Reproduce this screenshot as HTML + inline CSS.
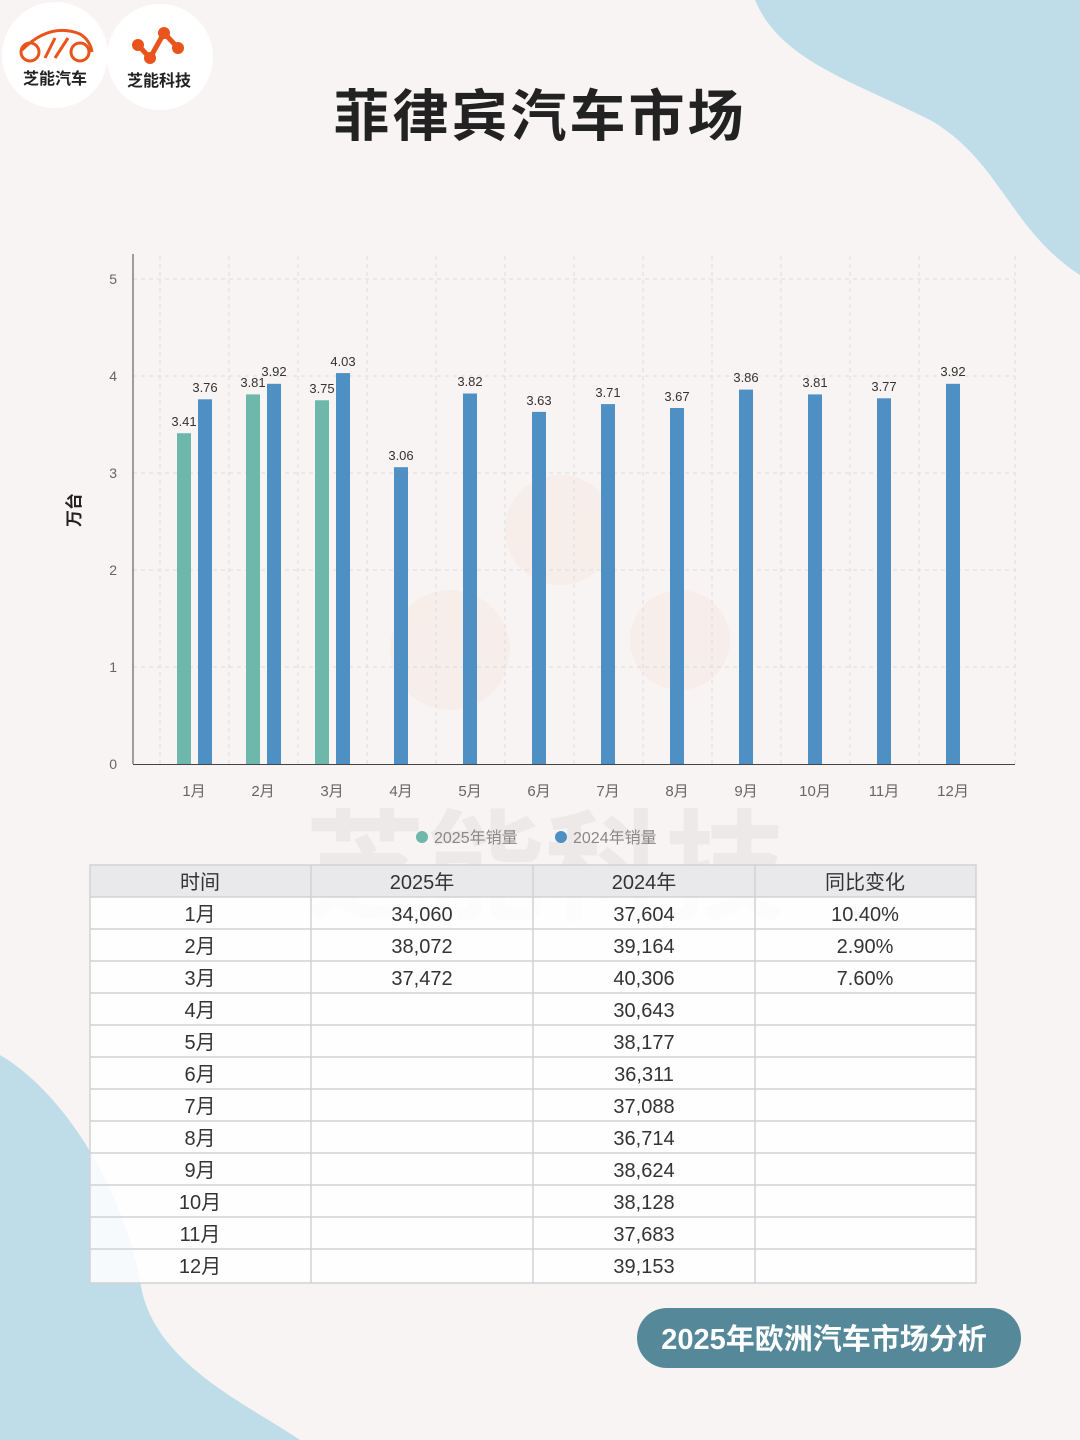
<!DOCTYPE html>
<html><head><meta charset="utf-8"><style>
body{margin:0;width:1080px;height:1440px;background:#f8f4f3;overflow:hidden;font-family:"Liberation Sans","Noto Sans CJK SC",sans-serif;}
</style></head><body>
<svg width="1080" height="1440" xmlns="http://www.w3.org/2000/svg" style="position:absolute;left:0;top:0">
<path d="M755 0 C780 60 850 80 930 120 C1000 160 1010 230 1080 275 L1080 0 Z" fill="#bfdde9"/>
<path d="M0 1055 C60 1090 120 1180 140 1280 C150 1360 240 1400 300 1440 L0 1440 Z" fill="#bfdde9"/>
<circle cx="55" cy="55" r="53" fill="#fff"/>
<circle cx="160" cy="57" r="53" fill="#fff"/>
<path d="M22 50 Q50 22 80 34 Q90 40 92 52" fill="none" stroke="#e8541c" stroke-width="3"/>
<circle cx="30" cy="52" r="9" fill="none" stroke="#e8541c" stroke-width="3"/>
<circle cx="80" cy="52" r="9" fill="none" stroke="#e8541c" stroke-width="3"/>
<path d="M45 58 L55 38 M55 58 L68 38" stroke="#e8541c" stroke-width="3"/>
<text x="55" y="84" font-size="16" font-weight="bold" text-anchor="middle" fill="#222">芝能汽车</text>
<path d="M138 45 L150 58 L164 33 L178 48" fill="none" stroke="#e8541c" stroke-width="5"/>
<circle cx="138" cy="45" r="6" fill="#e8541c"/><circle cx="150" cy="58" r="6" fill="#e8541c"/>
<circle cx="164" cy="33" r="6" fill="#e8541c"/><circle cx="178" cy="48" r="6" fill="#e8541c"/>
<text x="159" y="86" font-size="16" font-weight="bold" text-anchor="middle" fill="#222">芝能科技</text>
<text x="540" y="136" font-size="56" font-weight="bold" text-anchor="middle" fill="#222" letter-spacing="3">菲律宾汽车市场</text>
<g opacity="0.04" fill="#e8541c"><circle cx="560" cy="530" r="55"/><circle cx="450" cy="650" r="60"/><circle cx="680" cy="640" r="50"/></g>
<text x="545" y="910" font-size="120" font-weight="bold" text-anchor="middle" fill="#000" opacity="0.04">芝能科技</text>
<g stroke="#ddd" stroke-dasharray="4,4" stroke-width="1">
<line x1="133" y1="279" x2="1015" y2="279"/><line x1="133" y1="376" x2="1015" y2="376"/>
<line x1="133" y1="473" x2="1015" y2="473"/><line x1="133" y1="570" x2="1015" y2="570"/>
<line x1="133" y1="667" x2="1015" y2="667"/>
<line x1="160" y1="256" x2="160" y2="764"/><line x1="229" y1="256" x2="229" y2="764"/><line x1="298" y1="256" x2="298" y2="764"/><line x1="367" y1="256" x2="367" y2="764"/><line x1="436" y1="256" x2="436" y2="764"/><line x1="505" y1="256" x2="505" y2="764"/><line x1="574" y1="256" x2="574" y2="764"/><line x1="643" y1="256" x2="643" y2="764"/><line x1="712" y1="256" x2="712" y2="764"/><line x1="781" y1="256" x2="781" y2="764"/><line x1="850" y1="256" x2="850" y2="764"/><line x1="919" y1="256" x2="919" y2="764"/><line x1="1015" y1="256" x2="1015" y2="764"/>
</g>
<line x1="133" y1="254" x2="133" y2="764" stroke="#444" stroke-width="1"/>
<line x1="133" y1="764.5" x2="1015" y2="764.5" stroke="#444" stroke-width="1"/>
<g font-size="14" fill="#666" text-anchor="end">
<text x="117" y="284">5</text><text x="117" y="381">4</text><text x="117" y="478">3</text><text x="117" y="575">2</text><text x="117" y="672">1</text><text x="117" y="769">0</text></g>
<text x="80" y="510" font-size="17" font-weight="bold" fill="#222" transform="rotate(-90 80 510)" text-anchor="middle">万台</text>
<g fill="#6db8aa">
<rect x="177" y="433.2" width="14" height="330.8"/><rect x="246" y="394.4" width="14" height="369.6"/><rect x="315" y="400.25" width="14" height="363.75"/></g>
<g fill="#4e90c4">
<rect x="198" y="399.3" width="14" height="364.7"/><rect x="267" y="383.8" width="14" height="380.2"/><rect x="336" y="373.1" width="14" height="390.9"/>
<rect x="394" y="467.2" width="14" height="296.8"/><rect x="463" y="393.5" width="14" height="370.5"/><rect x="532" y="411.9" width="14" height="352.1"/>
<rect x="601" y="404.1" width="14" height="359.9"/><rect x="670" y="408" width="14" height="356"/><rect x="739" y="389.6" width="14" height="374.4"/>
<rect x="808" y="394.4" width="14" height="369.6"/><rect x="877" y="398.3" width="14" height="365.7"/><rect x="946" y="383.8" width="14" height="380.2"/></g>
<g font-size="13" fill="#333" text-anchor="middle">
<text x="184" y="426">3.41</text><text x="253" y="387">3.81</text><text x="322" y="393">3.75</text>
<text x="205" y="392">3.76</text><text x="274" y="376">3.92</text><text x="343" y="366">4.03</text>
<text x="401" y="460">3.06</text><text x="470" y="386">3.82</text><text x="539" y="405">3.63</text>
<text x="608" y="397">3.71</text><text x="677" y="401">3.67</text><text x="746" y="382">3.86</text>
<text x="815" y="387">3.81</text><text x="884" y="391">3.77</text><text x="953" y="376">3.92</text></g>
<g font-size="15" fill="#666" text-anchor="middle">
<text x="194" y="796">1月</text><text x="263" y="796">2月</text><text x="332" y="796">3月</text><text x="401" y="796">4月</text><text x="470" y="796">5月</text><text x="539" y="796">6月</text><text x="608" y="796">7月</text><text x="677" y="796">8月</text><text x="746" y="796">9月</text><text x="815" y="796">10月</text><text x="884" y="796">11月</text><text x="953" y="796">12月</text></g>
<circle cx="422" cy="837" r="6" fill="#6db8aa"/><text x="434" y="843" font-size="16" fill="#888">2025年销量</text>
<circle cx="561" cy="837" r="6" fill="#4e90c4"/><text x="573" y="843" font-size="16" fill="#888">2024年销量</text>
<rect x="90" y="865" width="886" height="32" fill="#e9e9eb"/>
<rect x="90" y="897" width="886" height="386" fill="#fff" fill-opacity="0.85"/>
<g stroke="#d2d2d6" stroke-width="1.5">
<rect x="90" y="865" width="886" height="418" fill="none"/>
<line x1="311" y1="865" x2="311" y2="1283"/><line x1="533" y1="865" x2="533" y2="1283"/><line x1="755" y1="865" x2="755" y2="1283"/>
<line x1="90" y1="897" x2="976" y2="897"/><line x1="90" y1="929" x2="976" y2="929"/><line x1="90" y1="961" x2="976" y2="961"/><line x1="90" y1="993" x2="976" y2="993"/><line x1="90" y1="1025" x2="976" y2="1025"/><line x1="90" y1="1057" x2="976" y2="1057"/><line x1="90" y1="1089" x2="976" y2="1089"/><line x1="90" y1="1121" x2="976" y2="1121"/><line x1="90" y1="1153" x2="976" y2="1153"/><line x1="90" y1="1185" x2="976" y2="1185"/><line x1="90" y1="1217" x2="976" y2="1217"/><line x1="90" y1="1249" x2="976" y2="1249"/>
</g>
<g font-size="20" fill="#333" text-anchor="middle">
<text x="200" y="889">时间</text><text x="422" y="889">2025年</text><text x="644" y="889">2024年</text><text x="865" y="889">同比变化</text>
<text x="200" y="921">1月</text><text x="422" y="921">34,060</text><text x="644" y="921">37,604</text><text x="865" y="921">10.40%</text>
<text x="200" y="953">2月</text><text x="422" y="953">38,072</text><text x="644" y="953">39,164</text><text x="865" y="953">2.90%</text>
<text x="200" y="985">3月</text><text x="422" y="985">37,472</text><text x="644" y="985">40,306</text><text x="865" y="985">7.60%</text>
<text x="200" y="1017">4月</text><text x="644" y="1017">30,643</text>
<text x="200" y="1049">5月</text><text x="644" y="1049">38,177</text>
<text x="200" y="1081">6月</text><text x="644" y="1081">36,311</text>
<text x="200" y="1113">7月</text><text x="644" y="1113">37,088</text>
<text x="200" y="1145">8月</text><text x="644" y="1145">36,714</text>
<text x="200" y="1177">9月</text><text x="644" y="1177">38,624</text>
<text x="200" y="1209">10月</text><text x="644" y="1209">38,128</text>
<text x="200" y="1241">11月</text><text x="644" y="1241">37,683</text>
<text x="200" y="1273">12月</text><text x="644" y="1273">39,153</text>
</g>
<rect x="637" y="1308" width="384" height="60" rx="30" fill="#558899"/>
<text x="824" y="1349" font-size="29" font-weight="bold" fill="#fff" text-anchor="middle">2025年欧洲汽车市场分析</text>
</svg>
</body></html>
